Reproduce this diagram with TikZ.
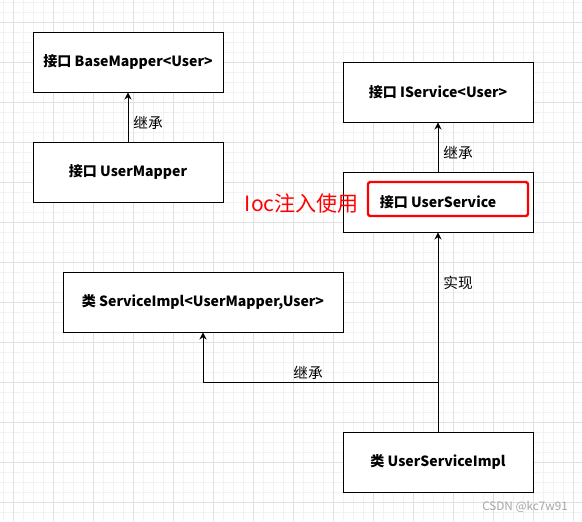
\documentclass[tikz,border=0pt]{standalone}
\usepackage{fontspec}
\setmainfont{Noto Sans CJK SC}
\usetikzlibrary{positioning,arrows.meta}

\begin{document}
\begin{tikzpicture}[x=0.03cm,y=-0.03cm,
box/.style={draw, fill=white, line width=0.8pt, minimum width=5.7cm, minimum height=1.8cm, font=\fontsize{12}{14}\selectfont\bfseries},
lbl/.style={font=\fontsize{12.5}{14}\selectfont},
inherit/.style={draw, line width=0.8pt, -{Stealth[length=6pt,width=6pt]}},
minor/.style={draw=black!5, line width=0.5pt},
major/.style={draw=black!12, line width=0.8pt},
]
\useasboundingbox[fill=white] (0,0) rectangle (582,521);
\foreach \x in {3,13,...,573} \draw[minor] (\x,0) -- (\x,521);
\foreach \y in {2,12,...,512} \draw[minor] (0,\y) -- (582,\y);
\foreach \x in {13,53,...,573} \draw[major] (\x,0) -- (\x,521);
\foreach \y in {22,62,...,502} \draw[major] (0,\y) -- (582,\y);

\node[box] (basemapper) at (128,62) {接口 BaseMapper<User>};
\node[box] (usermapper) at (128,172) {接口 UserMapper};
\node[box] (iservice) at (438,92) {接口 IService<User>};
\node[box] (userservice) at (438,202) {接口 UserService};
\node[box, minimum width=8.4cm] (serviceimpl) at (203,302) {类 ServiceImpl<UserMapper,User>};
\node[box] (userserviceimpl) at (438,462) {类 UserServiceImpl};
\node[draw=red, line width=2pt, rounded corners=2pt, minimum width=4.8cm, minimum height=1.02cm] (highlight) at (448,199) {};
\node[text=red, font=\fontsize{18}{20}\selectfont] (ioc) at (302,203) {Ioc注入使用};
\coordinate (turn) at (438,382);

\node[lbl] (inh1) at (148,123) {继承};
\node[lbl] (inh2) at (458,153) {继承};
\node[lbl] (impl) at (458,283) {实现};
\node[lbl] (inh3) at (308,373) {继承};
\node[text=black!35, font=\fontsize{10}{12}\selectfont] (csdn) at (525,507) {CSDN @kc7w91};

\path
(usermapper) edge[inherit] (basemapper)
(userservice) edge[inherit] (iservice)
(userserviceimpl) edge[inherit] (userservice)
;
\draw[inherit] (turn) -| (serviceimpl);
\end{tikzpicture}
\end{document}
